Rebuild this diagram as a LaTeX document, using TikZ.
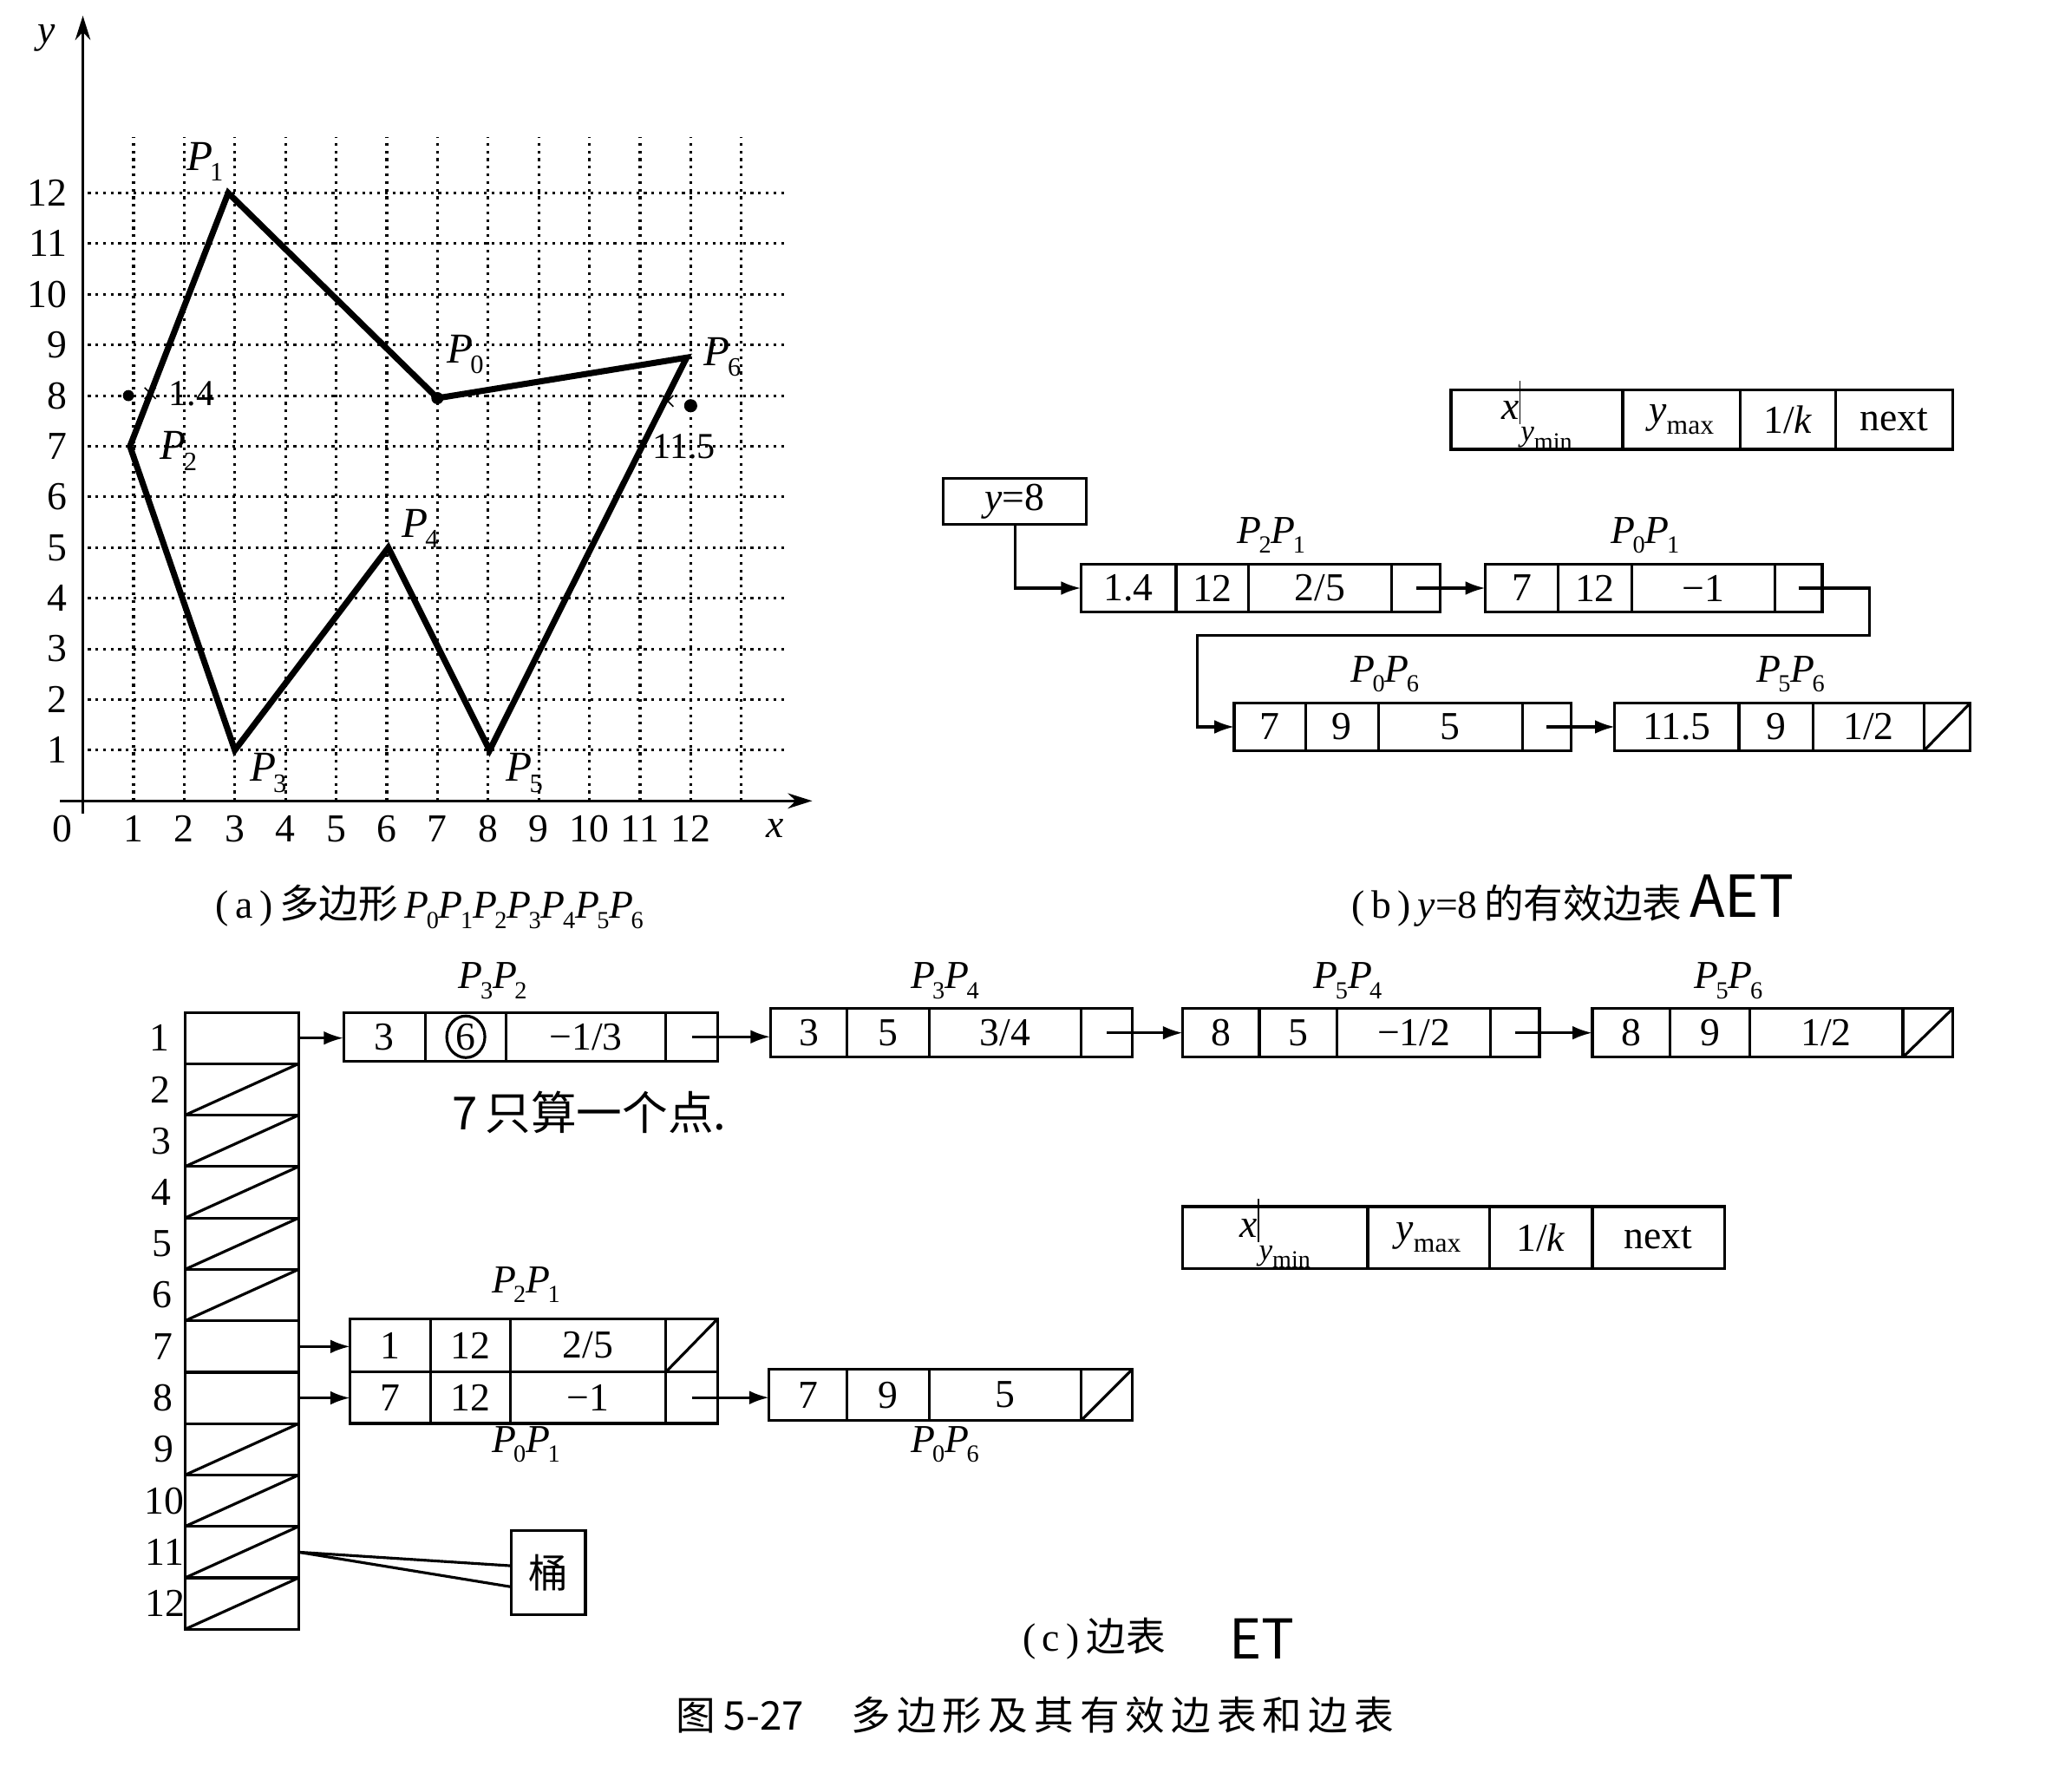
\documentclass[tikz,border=0pt]{standalone}
\usepackage{fontspec}
\usepackage{graphicx}
\setmainfont{Liberation Serif}
\newfontfamily\cjk{Noto Sans CJK SC}
\usetikzlibrary{arrows.meta,calc}
\newcommand\Pn[1]{\textit{P}\kern-0.06em\raisebox{-0.55ex}{\scalebox{0.62}{#1}}}
\newcommand\cellnode[6]{\node[cellbox,minimum width={(#3-#2)*0.015236cm},minimum height={(#5-#4)*0.015236cm}] (#1) at ({(#2+#3)/2},{(#4+#5)/2}) {#6};}
\newcommand\record[8]{\def\rN{#1}\def\rXa{#2}\def\rXb{#3}\def\rXc{#4}\def\rXd{#5}\def\rXe{#6}\def\rYt{#7}\def\rYb{#8}\recordcont}
\newcommand\recordcont[3]{%
 \cellnode{\rN a}{\rXa}{\rXb}{\rYt}{\rYb}{#1}%
 \cellnode{\rN b}{\rXb}{\rXc}{\rYt}{\rYb}{#2}%
 \cellnode{\rN c}{\rXc}{\rXd}{\rYt}{\rYb}{#3}%
 \cellnode{\rN d}{\rXd}{\rXe}{\rYt}{\rYb}{}}
\newcommand\xymin{\smash{\textit{x}\raisebox{-0.25ex}{\rule{0.5pt}{1.1em}}\raisebox{-1.2ex}{\fontsize{10}{10}\selectfont\textit{y}\raisebox{-0.6ex}{\fontsize{8}{8}\selectfont min}}}}
\tikzset{
 cellbox/.style={draw,line width=0.9pt,inner sep=0pt,outer sep=0pt,font=\fontsize{13}{15}\selectfont},
 lab/.style={inner sep=0pt,font=\fontsize{13}{15}\selectfont},
 tick/.style={inner sep=0pt,font=\fontsize{13}{15}\selectfont},
 plab/.style={inner sep=0pt,font=\fontsize{14}{16}\selectfont},
 conn/.style={line width=0.9pt,-{Latex[length=6.5pt,width=4.5pt]}},
 gridl/.style={line width=0.9pt,dash pattern=on 0.9pt off 1.6pt},
 axisl/.style={line width=1pt,-{Stealth[length=8pt,width=5pt]}},
 polyl/.style={line width=2pt,line join=miter},
 slashl/.style={line width=0.9pt},
 handw/.style={inner sep=0pt,font=\cjk\fontsize{15}{17}\selectfont},
 capt/.style={inner sep=0pt,font=\fontsize{13}{15}\selectfont},
}
\begin{document}
\begin{tikzpicture}[x=0.015236cm,y=-0.015236cm]
\useasboundingbox (0,0) rectangle (1568,1341);
% ---------------- (a) graph ----------------
\begin{scope}[shift={(62.7,606)},x=0.5843cm,y=0.5843cm]
 \foreach \i in {1,...,13} \draw[gridl] (\i,0) -- (\i,13.1);
 \foreach \j in {1,...,12} \draw[gridl] (0.1,\j) -- (13.9,\j);
 \draw[axisl] (-0.45,0) -- (14.4,0);
 \draw[axisl] (0,-0.25) -- (0,15.5);
 \foreach \j in {1,...,12} \node[tick,anchor=east] (yl\j) at (-0.3,\j) {\j};
 \node[tick] (xl0) at (-0.4,-0.55) {0};
 \foreach \i in {1,...,12} \node[tick] (xl\i) at (\i,-0.55) {\i};
 \node[tick] (xlab) at (13.67,-0.55) {\textit{x}};
 \node[tick] (ylab) at (-0.72,15.05) {\textit{y}};
 \coordinate (P0) at (7,7.95);
 \coordinate (P1) at (2.87,12);
 \coordinate (P2) at (0.93,7);
 \coordinate (P3) at (3,1);
 \coordinate (P4) at (6.03,5);
 \coordinate (P5) at (8.03,1);
 \coordinate (P6) at (11.92,8.75);
 \draw[polyl] (P0) -- (P1) -- (P2) -- (P3) -- (P4) -- (P5) -- (P6) -- cycle;
 \fill (P0) circle[radius=0.12];
 \coordinate (D1) at (0.9,8);
 \coordinate (D2) at (12.0,7.8);
 \fill (D1) circle[radius=0.11];
 \fill (D2) circle[radius=0.13];
 \node[plab] (lP1) at (2.41,12.62) {\Pn1};
 \node[plab] (lP0) at (7.55,8.81) {\Pn0};
 \node[plab] (lP2) at (1.89,6.91) {\Pn2};
 \node[plab] (lP3) at (3.66,0.55) {\Pn3};
 \node[plab] (lP4) at (6.66,5.37) {\Pn4};
 \node[plab] (lP5) at (8.72,0.55) {\Pn5};
 \node[plab] (lP6) at (12.63,8.76) {\Pn6};
 \node[inner sep=0pt,font=\fontsize{10}{12}\selectfont] (m1) at (1.33,8) {×};
 \node[inner sep=0pt,font=\fontsize{10}{12}\selectfont] (m2) at (11.55,7.85) {×};
 \node[inner sep=0pt,font=\fontsize{12}{14}\selectfont] (h14) at (2.15,8.03) {1.4};
 \node[inner sep=0pt,font=\fontsize{12}{14}\selectfont] (h115) at (11.87,6.99) {11.5};
\end{scope}
\node[capt] (capA) at (325,686) {(\,a\,)\,{\cjk 多边形}\,\Pn0\Pn1\Pn2\Pn3\Pn4\Pn5\Pn6};
% ---------------- (b) AET ----------------
\record{h1}{1098}{1228}{1317}{1389}{1478}{295}{340}
 {\xymin}
 {\textit{y}\raisebox{-0.6ex}{\fontsize{9}{9}\selectfont max}}
 {1/\textit{k}}
\node[lab] (h1t) at (h1d) {next};
\node[cellbox,minimum width={108*0.015236cm},minimum height={35*0.015236cm}] (y8) at (768,379.5) {\textit{y}=8};
\record{b1}{818}{890}{945}{1053}{1090}{427}{463}{1.4}{12}{2/5}
\record{b2}{1124}{1179}{1235}{1343}{1379}{427}{463}{7}{12}{−1}
\record{b3}{934}{988}{1043}{1152}{1189}{532}{568}{7}{9}{5}
\record{b4}{1222}{1316}{1372}{1456}{1491}{532}{568}{11.5}{9}{1/2}
\draw[slashl] (b4d.south west) -- (b4d.north east);
\node[lab] (lb1) at (962,405) {\Pn2\Pn1};
\node[lab] (lb2) at (1245,405) {\Pn0\Pn1};
\node[lab] (lb3) at (1048,510) {\Pn0\Pn6};
\node[lab] (lb4) at (1355,510) {\Pn5\Pn6};
\draw[conn] (y8.south) |- (b1a.west);
\draw[conn] (b1d.center) -- (b2a.west);
\coordinate (t1) at (1415,481);
\coordinate (t2) at (906,481);
\draw[conn] (b2d.center) -| (t1) -- (t2) |- (b3a.west);
\draw[conn] (b3d.center) -- (b4a.west);
\node[capt] (capB) at (1148,685) {(\,b\,)\,\textit{y}=8\,{\cjk 的有效边表}};
\node[handw,font=\cjk\fontsize{19}{21}\selectfont] (aet) at (1318,678) {AET};
% ---------------- (c) ET ----------------
\foreach \k in {1,...,12} {
 \pgfmathsetmacro\yt{766+38.9*(\k-1)}
 \pgfmathsetmacro\yb{766+38.9*\k}
 \cellnode{k\k}{140}{226}{\yt}{\yb}{}
}
\foreach \k in {2,...,6,9,10,11,12} \draw[slashl] (k\k.south west) -- (k\k.north east);
\foreach \k in {1,...,12} \node[lab] (rl\k) at ({121+4*(\k-1)/11},{766+38.9*(\k-0.5)}) {\k};
\record{c1}{260}{322}{383}{504}{543}{766}{803}{3}{6}{−1/3}
\draw[line width=0.9pt] (c1b.center) ellipse[x radius=0.22cm,y radius=0.24cm];
\record{c2}{583}{641}{703}{818}{857}{763}{800}{3}{5}{3/4}
\record{c3}{895}{953}{1012}{1128}{1165}{763}{800}{8}{5}{−1/2}
\record{c4}{1205}{1264}{1324}{1440}{1478}{763}{800}{8}{9}{1/2}
\draw[slashl] (c4d.south west) -- (c4d.north east);
\record{c5}{265}{326}{386}{504}{543}{998}{1038}{1}{12}{2/5}
\draw[slashl] (c5d.south west) -- (c5d.north east);
\record{c6}{265}{326}{386}{504}{543}{1038}{1077}{7}{12}{−1}
\record{c7}{582}{641}{703}{818}{857}{1036}{1075}{7}{9}{5}
\draw[slashl] (c7d.south west) -- (c7d.north east);
\node[lab] (lc1) at (373,742) {\Pn3\Pn2};
\node[lab] (lc2) at (715,742) {\Pn3\Pn4};
\node[lab] (lc3) at (1020,742) {\Pn5\Pn4};
\node[lab] (lc4) at (1308,742) {\Pn5\Pn6};
\node[lab] (lc5) at (398,972) {\Pn2\Pn1};
\node[lab] (lc6) at (398,1093) {\Pn0\Pn1};
\node[lab] (lc7) at (715,1093) {\Pn0\Pn6};
\draw[conn] (k1.east) -- (k1.east -| c1a.west);
\draw[conn] (c1d.center) -- (c1d.center -| c2a.west);
\draw[conn] (c2d.center) -- (c2d.center -| c3a.west);
\draw[conn] (c3d.center) -- (c3d.center -| c4a.west);
\draw[conn] (k7.east) -- (k7.east -| c5a.west);
\draw[conn] (k8.east) -- (k8.east -| c6a.west);
\draw[conn] (c6d.center) -- (c6d.center -| c7a.west);
\record{h2}{895}{1035}{1127}{1205}{1305}{913}{960}
 {\xymin}
 {\textit{y}\raisebox{-0.6ex}{\fontsize{9}{9}\selectfont max}}
 {1/\textit{k}}
\node[lab] (h2t) at (h2d) {next};
\node[handw] (note) at (446,842) {7\,只算一个点.};
\node[draw,line width=0.9pt,inner sep=0pt,minimum width=0.853cm,minimum height=0.975cm,font=\cjk\fontsize{13}{15}\selectfont] (tong) at (415,1190) {桶};
\draw[line width=0.9pt] (k11.east) -- ($(tong.north west)!0.42!(tong.south west)$);
\draw[line width=0.9pt] (k11.east) -- ($(tong.north west)!0.66!(tong.south west)$);
\node[capt] (capC) at (828,1240) {(\,c\,)\,{\cjk 边表}};
\node[handw,font=\cjk\fontsize{18}{20}\selectfont] (et) at (955,1240) {ET};
\node[capt,font=\cjk\fontsize{13}{15}\selectfont] (capM) at (783,1298) {图\ 5-27\hspace{1.2em}多\hspace{2pt}边\hspace{2pt}形\hspace{2pt}及\hspace{2pt}其\hspace{2pt}有\hspace{2pt}效\hspace{2pt}边\hspace{2pt}表\hspace{2pt}和\hspace{2pt}边\hspace{2pt}表};
\end{tikzpicture}
\end{document}
